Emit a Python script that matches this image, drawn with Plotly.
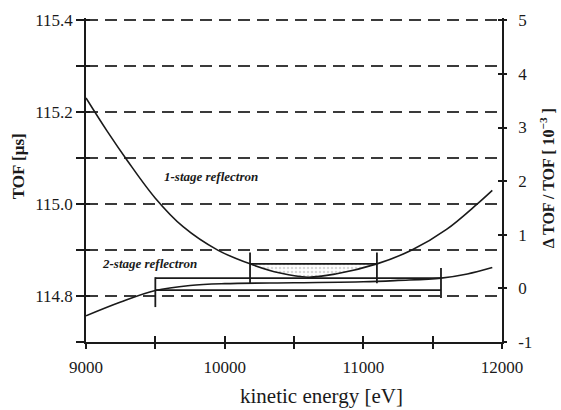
import plotly.graph_objects as go

# kinetic energy grid and time-of-flight for the two reflectron types
energy_1stage = [9000, 9150, 9300, 9500, 9700, 9950, 10183, 10400, 10600, 10800, 11098, 11350, 11600, 11820, 11930]
tof_1stage = [115.231, 115.160, 115.094, 115.013, 114.951, 114.900, 114.870, 114.850, 114.841, 114.848, 114.870, 114.900, 114.945, 115.000, 115.030]

energy_2stage = [9000, 9250, 9500, 9750, 10000, 10500, 11000, 11250, 11560, 11750, 11930]
tof_2stage = [114.757, 114.787, 114.812, 114.823, 114.827, 114.829, 114.831, 114.834, 114.839, 114.848, 114.862]

# TOF window brackets (energy limits, TOF level, bracket extent)
bracket1_energy = [10183, 11098]
bracket1_tof = 114.870
bracket1_span = [114.828, 114.895]

bracket2_energy = [9500, 11560]
bracket2_top = 114.839
bracket2_bottom = 114.813
bracket2_left_span = [114.776, 114.841]
bracket2_right_span = [114.796, 114.861]

x_labelled = [9000, 10000, 11000, 12000]
y_labelled = [114.8, 115.0, 115.2, 115.4]
y2_ticks = [-1, 0, 1, 2, 3, 4, 5]
y2_ticklabels = ["-1", "0", "1", "2", "3", "4", "5"]

SERIF = "Liberation Serif"
INK = "#1a1a1a"
GRID = "#3a3a3a"

fig = go.Figure()

# stippled lens between the 1-stage curve and its TOF level
lens_e = [e for e in energy_1stage if bracket1_energy[0] <= e <= bracket1_energy[1]]
lens_t = [t for e, t in zip(energy_1stage, tof_1stage) if bracket1_energy[0] <= e <= bracket1_energy[1]]
fig.add_trace(go.Scatter(x=bracket1_energy, y=[bracket1_tof] * 2, mode="lines",
                         line=dict(width=0), hoverinfo="skip", showlegend=False))
fig.add_trace(go.Scatter(x=lens_e, y=lens_t, mode="lines", fill="tonexty",
                         line=dict(width=0, shape="spline"),
                         fillcolor="rgba(0,0,0,0)",
                         fillpattern=dict(shape=".", fgcolor="#b0b0b0", bgcolor="rgba(255,255,255,0)",
                                          size=4, solidity=0.3),
                         hoverinfo="skip", showlegend=False))

line_style = dict(color=INK, width=1.6)
box_style = dict(color=INK, width=1.8)

# curves
fig.add_trace(go.Scatter(x=energy_1stage, y=tof_1stage, mode="lines",
                         line=dict(shape="spline", smoothing=1.0, **line_style), showlegend=False))
fig.add_trace(go.Scatter(x=energy_2stage, y=tof_2stage, mode="lines",
                         line=dict(shape="spline", smoothing=1.0, **line_style), showlegend=False))

# 1-stage bracket
fig.add_trace(go.Scatter(x=bracket1_energy, y=[bracket1_tof] * 2, mode="lines",
                         line=box_style, showlegend=False))
for e in bracket1_energy:
    fig.add_trace(go.Scatter(x=[e, e], y=bracket1_span, mode="lines",
                             line=box_style, showlegend=False))

# 2-stage bracket
fig.add_trace(go.Scatter(x=bracket2_energy, y=[bracket2_top] * 2, mode="lines",
                         line=box_style, showlegend=False))
fig.add_trace(go.Scatter(x=bracket2_energy, y=[bracket2_bottom] * 2, mode="lines",
                         line=box_style, showlegend=False))
fig.add_trace(go.Scatter(x=[bracket2_energy[0]] * 2, y=bracket2_left_span, mode="lines",
                         line=box_style, showlegend=False))
fig.add_trace(go.Scatter(x=[bracket2_energy[1]] * 2, y=bracket2_right_span, mode="lines",
                         line=box_style, showlegend=False))

# right-hand axis carrier (relative TOF deviation)
fig.add_trace(go.Scatter(x=[9000], y=[0], yaxis="y2", mode="markers",
                         marker=dict(opacity=0), hoverinfo="skip", showlegend=False))
# carriers for the inside-tick overlay axes
fig.add_trace(go.Scatter(x=[9000], y=[114.7], xaxis="x2", yaxis="y3", mode="markers",
                         marker=dict(opacity=0), hoverinfo="skip", showlegend=False))
fig.add_trace(go.Scatter(x=[9000], y=[0], xaxis="x2", yaxis="y4", mode="markers",
                         marker=dict(opacity=0), hoverinfo="skip", showlegend=False))

label_font = dict(family=SERIF, size=13, color=INK)
fig.add_annotation(x=9548, y=115.061, xref="x", yref="y", xanchor="left", yanchor="middle",
                   text="<b><i>1-stage reflectron</i></b>", showarrow=False, font=label_font)
fig.add_annotation(x=9101, y=114.870, xref="x", yref="y", xanchor="left", yanchor="middle",
                   text="<b><i>2-stage reflectron</i></b>", showarrow=False, font=label_font)

# axis titles
fig.add_annotation(x=-0.163, y=0.543, xref="paper", yref="paper", xanchor="center", yanchor="middle",
                   text="<b>TOF [µs]</b>", textangle=-90, showarrow=False,
                   font=dict(family=SERIF, size=17, color=INK))
fig.add_annotation(x=1.11, y=0.505, xref="paper", yref="paper", xanchor="center", yanchor="middle",
                   text="<b>Δ TOF / TOF [ 10<sup>−3</sup> ]</b>", textangle=-90, showarrow=False,
                   font=dict(family=SERIF, size=16, color=INK))
fig.add_annotation(x=0.565, y=-0.168, xref="paper", yref="paper", xanchor="center", yanchor="middle",
                   text="kinetic energy [eV]", showarrow=False,
                   font=dict(family=SERIF, size=21, color=INK))

tick_font = dict(family=SERIF, size=17, color=INK)
x_range = [9000, 12000]
# small headroom so the top grid line at 115.4 is kept
y_range = [114.7, 115.405]
y2_range = [-1, 5.043]

fig.update_layout(
    width=561, height=410,
    margin=dict(l=86, r=59, t=18, b=68),
    paper_bgcolor="white", plot_bgcolor="white",
    font=dict(family=SERIF, color=INK),
    xaxis=dict(range=x_range, tickvals=x_labelled, tickformat="d",
               ticks="outside", ticklen=5, tickwidth=1.5, tickcolor=INK,
               minor=dict(dtick=500, tick0=9000, ticks="outside", ticklen=5, tickwidth=1.5,
                          tickcolor=INK, showgrid=False),
               showline=True, linewidth=1.6, linecolor=INK, showgrid=False, zeroline=False,
               tickfont=tick_font, ticklabelstandoff=4),
    xaxis2=dict(range=x_range, overlaying="x", anchor="y", side="bottom",
                dtick=500, tick0=9000, showticklabels=False, ticks="inside", ticklen=6, tickwidth=1.5,
                tickcolor=INK, showline=False, showgrid=False, zeroline=False),
    yaxis=dict(range=y_range, tickvals=y_labelled, tickformat=".1f",
               ticks="outside", ticklen=8, tickwidth=1.5, tickcolor=INK,
               minor=dict(dtick=0.1, tick0=114.7, ticks="outside", ticklen=8, tickwidth=1.5,
                          tickcolor=INK, showgrid=True, gridcolor=GRID, gridwidth=1.5,
                          griddash="12px,7px"),
               showline=True, linewidth=1.6, linecolor=INK, zeroline=False,
               showgrid=True, gridcolor=GRID, gridwidth=1.5, griddash="12px,7px",
               tickfont=tick_font),
    yaxis3=dict(range=y_range, overlaying="y", anchor="x", side="left",
                dtick=0.1, tick0=114.7, showticklabels=False, ticks="inside", ticklen=4, tickwidth=1.5,
                tickcolor=INK, showline=False, showgrid=False, zeroline=False),
    yaxis2=dict(range=y2_range, overlaying="y", anchor="x", side="right",
                tickvals=y2_ticks, ticktext=y2_ticklabels,
                ticks="outside", ticklen=3, tickwidth=1.5, tickcolor=INK,
                showline=True, linewidth=1.6, linecolor=INK, showgrid=False, zeroline=False,
                tickfont=tick_font, ticklabelstandoff=8),
    yaxis4=dict(range=y2_range, overlaying="y", anchor="x", side="right",
                tickvals=y2_ticks, showticklabels=False, ticks="inside", ticklen=4, tickwidth=1.5,
                tickcolor=INK, showline=False, showgrid=False, zeroline=False),
)

fig.write_html("out.html")
